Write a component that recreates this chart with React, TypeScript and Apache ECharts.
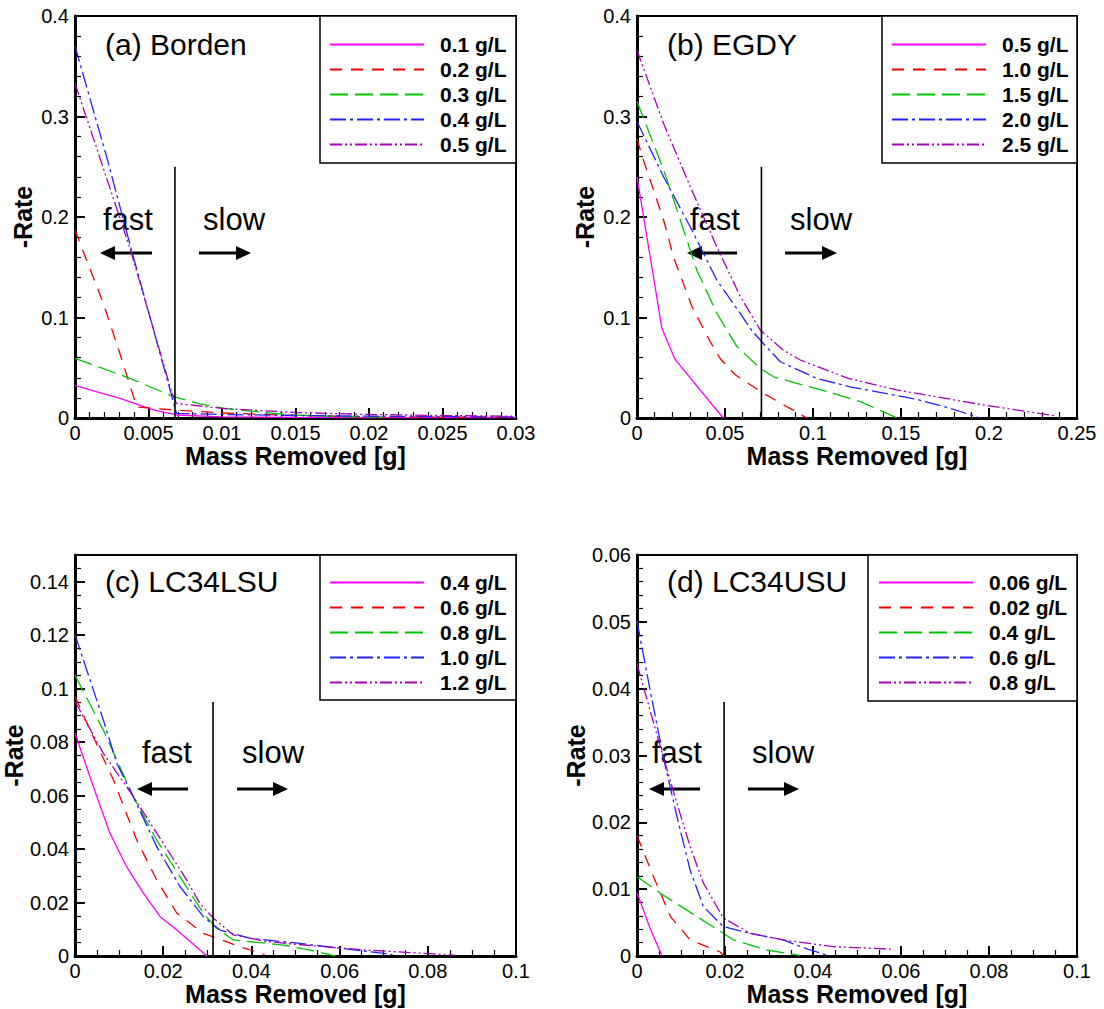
import React, { useEffect, useRef } from "react";
import * as echarts from "echarts";

const FONT = "'Liberation Sans', Arial, Helvetica, sans-serif";

// ---------- Panel (a) Borden ----------
const bordenNames = ["0.1 g/L", "0.2 g/L", "0.3 g/L", "0.4 g/L", "0.5 g/L"];
const borden01 = [[0, 0.0325], [0.0015, 0.026], [0.00306, 0.0196], [0.00533, 0.008], [0.0069, 0.003], [0.01, 0.0012], [0.015, 0.0006], [0.02, 0.0004], [0.03, 0.0003]];
const borden02 = [[0, 0.187], [0.00193, 0.114], [0.00306, 0.064], [0.0042, 0.011], [0.0067, 0.008], [0.01, 0.005], [0.015, 0.0025], [0.02, 0.0012], [0.03, 0.0005]];
const borden03 = [[0, 0.0594], [0.00374, 0.0395], [0.0067, 0.0212], [0.0085, 0.014], [0.0101, 0.0097], [0.0125, 0.006], [0.0148, 0.003], [0.018, 0.0015], [0.021, 0.0008]];
const borden04 = [[0, 0.37], [0.00215, 0.26], [0.00386, 0.166], [0.0066, 0.021], [0.0069, 0.0047], [0.01, 0.0035], [0.015, 0.0025], [0.02, 0.0018], [0.03, 0.001]];
const borden05 = [[0, 0.333], [0.0016, 0.263], [0.0038, 0.166], [0.0066, 0.0246], [0.0069, 0.0146], [0.01, 0.0095], [0.015, 0.0055], [0.02, 0.0035], [0.025, 0.0025], [0.03, 0.0017]];
const bordenDivider = [[0.0068, 0], [0.0068, 0.25]];

// ---------- Panel (b) EGDY ----------
const egdyNames = ["0.5 g/L", "1.0 g/L", "1.5 g/L", "2.0 g/L", "2.5 g/L"];
const egdy05 = [[0, 0.24], [0.0142, 0.089], [0.0217, 0.058], [0.049, 0]];
const egdy10 = [[0, 0.278], [0.003, 0.26], [0.0151, 0.197], [0.0208, 0.16], [0.0312, 0.111], [0.0416, 0.076], [0.0473, 0.059], [0.0558, 0.043], [0.0719, 0.0245], [0.0965, 0]];
const egdy15 = [[0, 0.315], [0.0151, 0.247], [0.0246, 0.197], [0.034, 0.147], [0.0454, 0.104], [0.0568, 0.071], [0.07, 0.0494], [0.0776, 0.041], [0.0909, 0.0345], [0.108, 0.0262], [0.127, 0.0162], [0.148, 0]];
const egdy20 = [[0, 0.295], [0.0151, 0.24], [0.0303, 0.19], [0.0454, 0.137], [0.0587, 0.104], [0.0644, 0.089], [0.07, 0.0776], [0.0814, 0.056], [0.102, 0.0395], [0.121, 0.031], [0.158, 0.019], [0.178, 0.0096], [0.195, 0]];
const egdy25 = [[0, 0.366], [0.0151, 0.293], [0.0303, 0.23], [0.0454, 0.17], [0.0587, 0.121], [0.07, 0.0876], [0.083, 0.0677], [0.0928, 0.0577], [0.12, 0.0395], [0.1476, 0.0279], [0.159, 0.0245], [0.197, 0.0129], [0.2385, 0.002]];
const egdyDivider = [[0.0707, 0], [0.0707, 0.25]];

// ---------- Panel (c) LC34LSU ----------
const lsuNames = ["0.4 g/L", "0.6 g/L", "0.8 g/L", "1.0 g/L", "1.2 g/L"];
const lsu04 = [[0, 0.0834], [0.00415, 0.0634], [0.0079, 0.046], [0.0117, 0.0334], [0.0155, 0.0235], [0.0193, 0.0147], [0.0231, 0.0097], [0.0299, 0]];
const lsu06 = [[0, 0.0971], [0.0034, 0.0846], [0.0087, 0.0659], [0.014, 0.0434], [0.0185, 0.0285], [0.0231, 0.016], [0.0291, 0.0085], [0.0374, 0.0035], [0.043, 0.0005]];
const lsu08 = [[0, 0.105], [0.0064, 0.0846], [0.0132, 0.0597], [0.0185, 0.0434], [0.0238, 0.0297], [0.0291, 0.016], [0.0321, 0.0104], [0.0359, 0.006], [0.0472, 0.0041], [0.0533, 0.0022], [0.059, 0]];
const lsu10 = [[0, 0.1202], [0.0064, 0.0884], [0.00945, 0.0722], [0.0132, 0.0597], [0.0185, 0.041], [0.0238, 0.026], [0.0291, 0.0147], [0.0329, 0.0097], [0.0397, 0.0066], [0.051, 0.0047], [0.0601, 0.0029], [0.07, 0.001], [0.072, 0.0005]];
const lsu12 = [[0, 0.0952], [0.0064, 0.0759], [0.0132, 0.0597], [0.02, 0.0422], [0.0253, 0.0285], [0.0283, 0.0197], [0.0314, 0.0141], [0.0359, 0.0079], [0.0435, 0.0054], [0.0548, 0.0037], [0.0661, 0.0022], [0.0813, 0.0008], [0.086, 0.0003]];
const lsuDivider = [[0.0313, 0], [0.0313, 0.095]];

// ---------- Panel (d) LC34USU ----------
const usuNames = ["0.06 g/L", "0.02 g/L", "0.4 g/L", "0.6 g/L", "0.8 g/L"];
const usu006 = [[0, 0.0095], [0.003, 0.0041], [0.0057, 0]];
const usu002 = [[0, 0.018], [0.0038, 0.0118], [0.0076, 0.0059], [0.0121, 0.0024], [0.0189, 0.0006], [0.0198, 0]];
const usu04 = [[0, 0.0119], [0.0053, 0.0094], [0.0136, 0.0059], [0.0196, 0.0034], [0.0219, 0.0024], [0.0295, 0.0009], [0.037, 0.0001]];
const usu06 = [[0, 0.0501], [0.003, 0.0397], [0.006, 0.0297], [0.0091, 0.0208], [0.0121, 0.0128], [0.0151, 0.0074], [0.0196, 0.0044], [0.0257, 0.0034], [0.0332, 0.0024], [0.0393, 0.0009], [0.0439, 0]];
const usu08 = [[0, 0.0437], [0.003, 0.0367], [0.006, 0.0297], [0.0091, 0.0228], [0.0121, 0.0163], [0.0151, 0.0109], [0.0196, 0.0057], [0.0257, 0.0034], [0.0332, 0.0024], [0.0446, 0.0014], [0.0582, 0.001]];
const usuDivider = [[0.0198, 0], [0.0198, 0.038]];

// axis settings: [min, max, interval, minorSplit]
const xAxesSpec = [
  [0, 0.03, 0.005, 5],
  [0, 0.25, 0.05, 5],
  [0, 0.1, 0.02, 4],
  [0, 0.1, 0.02, 4],
];
const yAxesSpec = [
  [0, 0.4, 0.1, 5],
  [0, 0.4, 0.1, 5],
  [0, 0.15, 0.02, 4],
  [0, 0.06, 0.01, 5],
];

const COLORS = ["#ff00ff", "#ee0000", "#00c400", "#2222ff", "#a800b8"];
const DASHES: any[] = ["solid", [12, 9], [18, 7], [16, 4, 3, 4], [12, 3, 2, 3, 2, 3]];

const GRIDS = [
  { left: 75, top: 16, width: 441, height: 402 },
  { left: 637, top: 16, width: 440, height: 402 },
  { left: 75, top: 555, width: 441, height: 401 },
  { left: 637, top: 555, width: 440, height: 401 },
];

const PANELS = [
  { key: "a", names: bordenNames, data: [borden01, borden02, borden03, borden04, borden05], divider: bordenDivider },
  { key: "b", names: egdyNames, data: [egdy05, egdy10, egdy15, egdy20, egdy25], divider: egdyDivider },
  { key: "c", names: lsuNames, data: [lsu04, lsu06, lsu08, lsu10, lsu12], divider: lsuDivider },
  { key: "d", names: usuNames, data: [usu006, usu002, usu04, usu06, usu08], divider: usuDivider },
];

const TITLES = ["(a) Borden", "(b) EGDY", "(c) LC34LSU", "(d) LC34USU"];

// layout of decorations (pixels)
const LEGEND_POS = [
  { box: [320, 16, 196, 147], left: 329, top: 34 },
  { box: [882, 16, 195, 147], left: 891, top: 34 },
  { box: [320, 555, 196, 145], left: 329, top: 572 },
  { box: [868, 555, 209, 146], left: 878, top: 572 },
];
const TITLE_POS = [[105, 44], [667, 44], [105, 581], [667, 581]];
const FAST_POS = [[103, 219], [690, 219], [142, 752], [652, 752]];
const SLOW_POS = [[203, 219], [790, 219], [242, 752], [752, 752]];
// [shaftStart, tip, y]
const LEFT_ARROWS = [[152, 100, 253], [737, 687, 253], [188, 137, 789], [700, 649, 789]];
const RIGHT_ARROWS = [[199, 251, 253], [785, 837, 253], [237, 288, 789], [748, 799, 789]];

function arrow(x0: number, tip: number, y: number) {
  const dir = tip > x0 ? 1 : -1;
  const base = tip - dir * 15;
  return [
    { type: "line", shape: { x1: x0, y1: y, x2: base, y2: y }, style: { stroke: "#000", lineWidth: 3 }, silent: true },
    { type: "polygon", shape: { points: [[tip, y], [base, y - 7], [base, y + 7]] }, style: { fill: "#000" }, silent: true },
  ];
}

export default function App() {
  const ref = useRef<HTMLDivElement>(null);
  useEffect(() => {
    if (!ref.current) return;
    const chart = echarts.init(ref.current, undefined, { renderer: "svg" });

    const grid = GRIDS.map((g) => ({ ...g, show: true, borderColor: "#000", borderWidth: 2, backgroundColor: "transparent", containLabel: false }));

    const axisCommon = (spec: number[], i: number, isX: boolean) => ({
      type: "value",
      gridIndex: i,
      min: spec[0],
      max: spec[1],
      interval: spec[2],
      position: isX ? "bottom" : "left",
      axisLine: { show: true, onZero: false, lineStyle: { color: "#000", width: 3 } },
      axisTick: { show: true, inside: true, length: 10, lineStyle: { color: "#000", width: 2 } },
      minorTick: { show: true, splitNumber: spec[3], length: 6, lineStyle: { color: "#000", width: 1.2 } },
      splitLine: { show: false },
      minorSplitLine: { show: false },
      axisLabel: {
        color: "#000",
        fontFamily: FONT,
        fontSize: 20,
        margin: isX ? 5 : 6,
        showMaxLabel: !isX && i === 2 ? false : true,
      },
      name: isX ? "Mass Removed [g]" : "-Rate",
      nameLocation: "middle",
      nameGap: isX ? 21 : 40,
      nameTextStyle: { color: "#000", fontFamily: FONT, fontSize: 25, fontWeight: "bold" },
    });

    const xAxis = xAxesSpec.map((s, i) => axisCommon(s, i, true));
    const yAxis = yAxesSpec.map((s, i) => axisCommon(s, i, false));

    const series: any[] = [];
    const legend: any[] = [];
    PANELS.forEach((p, pi) => {
      p.names.forEach((n, si) => {
        series.push({
          type: "line",
          name: p.key + "|" + n,
          xAxisIndex: pi,
          yAxisIndex: pi,
          data: p.data[si],
          symbol: "none",
          showSymbol: false,
          smooth: false,
          itemStyle: { color: COLORS[si] },
          lineStyle: { color: COLORS[si], width: 1.3, type: DASHES[si] },
          emphasis: { disabled: true },
          silent: true,
          z: 3,
        });
      });
      series.push({
        type: "line",
        name: p.key + "|divider",
        xAxisIndex: pi,
        yAxisIndex: pi,
        data: p.divider,
        symbol: "none",
        showSymbol: false,
        lineStyle: { color: "#000", width: 1.6, type: "solid" },
        itemStyle: { color: "#000" },
        silent: true,
        z: 4,
      });
      const lp = LEGEND_POS[pi];
      legend.push({
        show: true,
        orient: "vertical",
        left: lp.left,
        top: lp.top,
        padding: 0,
        itemGap: 4,
        itemWidth: 94,
        itemHeight: 14,
        selectedMode: false,
        data: p.names.map((n) => p.key + "|" + n),
        formatter: (name: string) => name.split("|")[1],
        itemStyle: { opacity: 0, borderWidth: 0 },
        textStyle: { color: "#000", fontFamily: FONT, fontSize: 21, fontWeight: "bold", lineHeight: 21, padding: [0, 0, 0, 11] },
      });
    });

    const graphic: any[] = [];
    LEGEND_POS.forEach((lp) => {
      graphic.push({
        type: "rect",
        shape: { x: lp.box[0], y: lp.box[1], width: lp.box[2], height: lp.box[3] },
        style: { fill: "#fff", stroke: "#000", lineWidth: 1.5 },
        z: 1,
        silent: true,
      });
    });
    TITLES.forEach((t, i) => {
      graphic.push({
        type: "text",
        x: TITLE_POS[i][0],
        y: TITLE_POS[i][1],
        style: { text: t, fill: "#000", font: `30px ${FONT}`, textAlign: "left", textVerticalAlign: "middle" },
        silent: true,
      });
      graphic.push({
        type: "text",
        x: FAST_POS[i][0],
        y: FAST_POS[i][1],
        style: { text: "fast", fill: "#000", font: `31px ${FONT}`, textAlign: "left", textVerticalAlign: "middle" },
        silent: true,
      });
      graphic.push({
        type: "text",
        x: SLOW_POS[i][0],
        y: SLOW_POS[i][1],
        style: { text: "slow", fill: "#000", font: `31px ${FONT}`, textAlign: "left", textVerticalAlign: "middle" },
        silent: true,
      });
      graphic.push(...arrow(LEFT_ARROWS[i][0], LEFT_ARROWS[i][1], LEFT_ARROWS[i][2]));
      graphic.push(...arrow(RIGHT_ARROWS[i][0], RIGHT_ARROWS[i][1], RIGHT_ARROWS[i][2]));
    });

    chart.setOption({
      animation: false,
      backgroundColor: "#fff",
      textStyle: { fontFamily: FONT },
      grid,
      xAxis,
      yAxis,
      legend,
      series,
      graphic,
    });
    return () => chart.dispose();
  }, []);

  return <div ref={ref} style={{ position: "absolute", left: 0, top: 0, width: 1104, height: 1009 }} />;
}
